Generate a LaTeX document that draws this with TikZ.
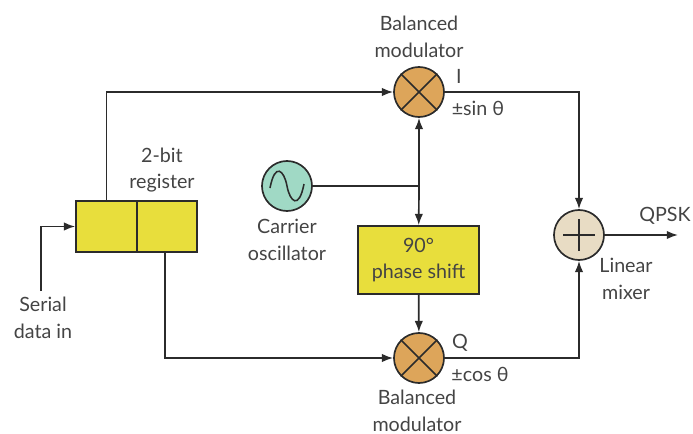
\documentclass[tikz,border=0pt]{standalone}
\usepackage{fontspec}
\setmainfont{Lato}
\usepackage{tikz}
\usetikzlibrary{arrows.meta, positioning, calc}
\definecolor{modorange}{HTML}{DDA55A}
\definecolor{osciteal}{HTML}{A0D9C5}
\definecolor{boxyellow}{HTML}{E8DE3C}
\definecolor{mixbeige}{HTML}{E8DCC4}
\definecolor{linegray}{HTML}{2B2B2B}
\definecolor{textgray}{HTML}{444444}
\tikzset{
  wire/.style={draw=linegray, line width=1.2pt, -{Latex[length=8pt,width=6pt]}},
  plainwire/.style={draw=linegray, line width=1.2pt},
  roundnode/.style={circle, draw=linegray, line width=1.2pt, minimum size=1.25cm, inner sep=0pt},
  yellowbox/.style={rectangle, draw=linegray, line width=1.2pt, fill=boxyellow, inner sep=0pt, align=center},
  lbl/.style={text=textgray, font=\fontsize{14}{19}\selectfont, align=center, inner sep=0pt}
}
\begin{document}
\begin{tikzpicture}[x=0.025cm, y=-0.025cm]
  \useasboundingbox (0, 0) rectangle (693, 434);
  \node[roundnode, fill=modorange] (modi) at (419, 92) {};
  \node[roundnode, fill=modorange] (modq) at (419, 358) {};
  \node[roundnode, fill=osciteal] (osc) at (287, 186) {};
  \node[roundnode, fill=mixbeige] (mixer) at (579, 235) {};
  \node[yellowbox, minimum width=3.025cm, minimum height=1.7cm, text=textgray, font=\fontsize{14}{19}\selectfont] (shift) at (418.5, 260) {90°\\phase shift};
  \node[yellowbox, minimum width=1.525cm, minimum height=1.275cm] (regl) at (106.5, 226.5) {};
  \node[yellowbox, minimum width=1.5cm, minimum height=1.275cm] (regr) at (167, 226.5) {};
  \draw[line width=1.2pt, draw=linegray] (modi.45) -- (modi.225) (modi.135) -- (modi.315);
  \draw[line width=1.2pt, draw=linegray] (modq.45) -- (modq.225) (modq.135) -- (modq.315);
  \draw[line width=1pt, draw=linegray] ($(mixer.west)+(10, 0)$) -- ($(mixer.east)+(-10, 0)$);
  \draw[line width=1pt, draw=linegray] ($(mixer.north)+(0, 10)$) -- ($(mixer.south)+(0, -10)$);
  \draw[line width=1.1pt, draw=linegray] (270, 188) .. controls (275, 162) and (284, 170) .. (287, 186) .. controls (290, 202) and (299, 210) .. (304, 184);

  \coordinate (junction) at (419, 186);
  \coordinate (serialin) at (41, 291);
  \coordinate (qpskout) at (678, 235);
  \coordinate (regout) at (165, 252);
  \draw[plainwire] (osc) -- (junction);
  \draw[wire] (junction) -- (modi);
  \draw[wire] (junction) -- (shift);
  \draw[wire] (shift) -- (modq);
  \draw[wire] (regl.north) |- (modi);
  \draw[wire] (regout) |- (modq);
  \draw[wire] (serialin) |- (regl);
  \draw[wire] (modi) -| (mixer);
  \draw[wire] (modq) -| (mixer);
  \draw[wire] (mixer) -- (qpskout);

  \node[lbl] (modilabel) at (419, 37) {Balanced\\modulator};
  \node[lbl] (ilabel) at (459, 76) {I};
  \node[lbl] (sinlabel) at (478, 108) {±sin θ};
  \node[lbl] (reglabel) at (162, 170) {2-bit\\register};
  \node[lbl] (osclabel) at (287, 240) {Carrier\\oscillator};
  \node[lbl] (seriallabel) at (43, 318) {Serial\\data in};
  \node[lbl] (qlabel) at (460, 343) {Q};
  \node[lbl] (coslabel) at (480, 374) {±cos θ};
  \node[lbl] (modqlabel) at (417, 411) {Balanced\\modulator};
  \node[lbl] (mixlabel) at (626, 279) {Linear\\mixer};
  \node[lbl] (qpsklabel) at (665, 216) {QPSK};
\end{tikzpicture}
\end{document}
